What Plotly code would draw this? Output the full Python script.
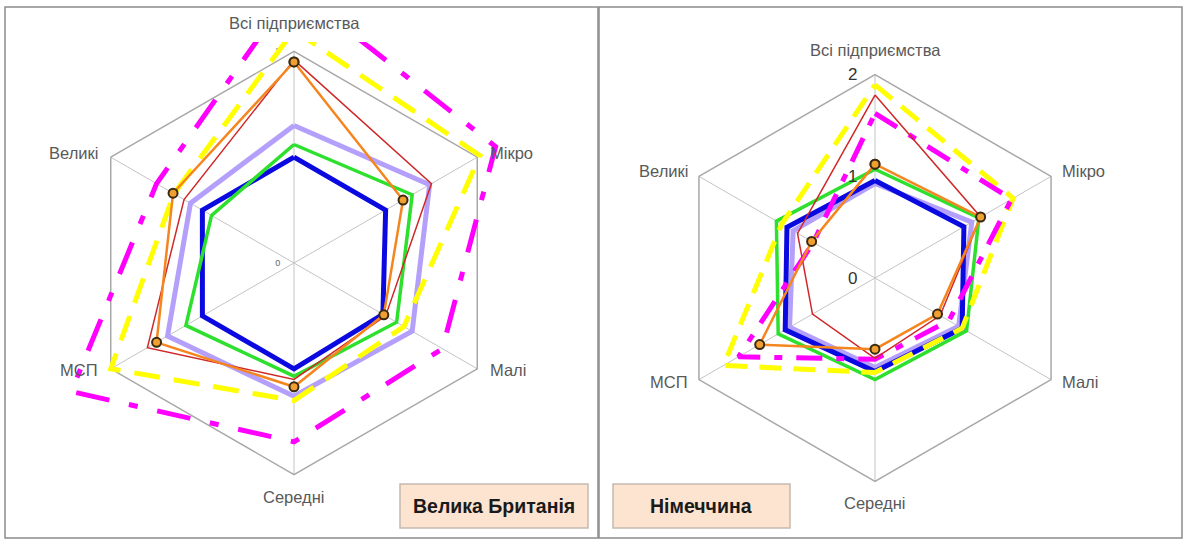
import plotly.graph_objects as go

# ---------------- data ----------------
categories = ["Всі підприємства", "Мікро", "Малі", "Середні", "МСП", "Великі"]

# Велика Британія
uk_blue = [1.00, 1.00, 0.97, 1.00, 1.00, 1.00]
uk_green = [1.12, 1.29, 1.12, 1.07, 1.18, 0.90]
uk_lavender = [1.30, 1.48, 1.29, 1.26, 1.38, 1.13]
uk_red = [1.92, 1.50, 1.00, 1.10, 1.60, 1.20]
uk_orange = [1.90, 1.19, 0.98, 1.17, 1.50, 1.32]
uk_yellow = [2.20, 2.03, 1.20, 1.30, 2.00, 1.31]
uk_magenta = [2.60, 2.20, 1.62, 1.69, 2.43, 1.50]

# Німеччина
de_blue = [0.96, 1.01, 0.99, 0.92, 1.02, 1.00]
de_green = [1.07, 1.18, 1.04, 1.00, 1.10, 1.12]
de_lavender = [0.93, 1.10, 0.95, 0.88, 0.97, 0.93]
de_red = [1.80, 1.20, 0.74, 0.79, 0.71, 0.88]
de_orange = [1.12, 1.20, 0.71, 0.70, 1.31, 0.72]
de_yellow = [1.90, 1.57, 0.99, 0.93, 1.72, 1.06]
de_magenta = [1.62, 1.55, 0.84, 0.80, 1.55, 0.70]

uk_ticks = [0, 2]
de_ticks = [0, 1, 2]
titles = ["Велика Британія", "Німеччина"]

# ---------------- geometry ----------------
W, H = 1183, 542
LEFT = dict(cx=294, cy=263, R=211.6)
RIGHT = dict(cx=875, cy=278, R=203.3)
RMAX_GRID = 2.0
RMAX_DATA = 2.48

FONT = "Liberation Sans, Arial, sans-serif"


def dom(cx, cy, half):
    return dict(x=[(cx - half) / W, (cx + half) / W],
                y=[(H - cy - half) / H, (H - cy + half) / H])


def closed(v):
    return list(v) + [v[0]]


theta = closed(categories)

styles = [
    ("lavender", dict(color="#b4a0fa", width=5), None),
    ("blue", dict(color="#0a0ae0", width=5), None),
    ("green", dict(color="#2ee02e", width=3.5), None),
    ("yellow", dict(color="#ffff00", width=5), "dash"),
    ("magenta", dict(color="#ff00ff", width=5), "dashdot"),
    ("red", dict(color="#d02828", width=1.5), None),
    ("orange", dict(color="#f5861f", width=2.5), "markers"),
]

fig = go.Figure()


def add_series(series, subplot, dashes):
    for (name, line, kind), vals in zip(styles, series):
        ln = dict(line)
        mode = "lines"
        marker = None
        if kind == "dash":
            ln["dash"] = dashes[0]
        elif kind == "dashdot":
            ln["dash"] = dashes[1]
        elif kind == "markers":
            mode = "lines+markers"
            marker = dict(size=9, color="#f0a030", line=dict(color="#3a2a10", width=2))
        fig.add_trace(go.Scatterpolar(
            r=closed(vals), theta=theta, mode=mode, line=ln, marker=marker,
            name=name, subplot=subplot, showlegend=False, hoverinfo="skip",
            cliponaxis=False))


uk_series = [uk_lavender, uk_blue, uk_green, uk_yellow, uk_magenta, uk_red, uk_orange]
de_series = [de_lavender, de_blue, de_green, de_yellow, de_magenta, de_red, de_orange]

# invisible helper so the grid subplot knows its categories
fig.add_trace(go.Scatterpolar(r=closed(uk_blue), theta=theta, mode="lines",
                              line=dict(width=0), opacity=0, subplot="polar",
                              showlegend=False, hoverinfo="skip"))
add_series(uk_series, "polar2", ("26px,14px", "34px,20px,9px,20px"))
add_series(de_series, "polar3", ("22px,12px", "26px,14px,8px,14px"))


def angular(grid):
    a = dict(type="category", rotation=90, direction="clockwise",
             showticklabels=False, ticks="")
    if grid:
        a.update(showline=True, linecolor="#a8a8a8", linewidth=1.5,
                 showgrid=True, gridcolor="#c4c4c4", gridwidth=1.2)
    else:
        a.update(showline=False, showgrid=False)
    return a


fig.update_layout(
    width=W, height=H,
    margin=dict(l=0, r=0, t=0, b=0),
    paper_bgcolor="white",
    showlegend=False,
    polar=dict(
        domain=dom(LEFT["cx"], LEFT["cy"], LEFT["R"]),
        gridshape="linear", bgcolor="white",
        angularaxis=angular(True),
        radialaxis=dict(range=[0, RMAX_GRID], showgrid=False, showline=False,
                        ticks="outside", ticklen=10, tickcolor="rgba(0,0,0,0)",
                        tickvals=uk_ticks, ticktext=[str(t) for t in uk_ticks],
                        tickfont=dict(family=FONT, size=9, color="#666666"),
                        tickangle=90, side="counterclockwise", angle=90),
    ),
    polar2=dict(
        domain=dom(LEFT["cx"], LEFT["cy"], LEFT["R"] / RMAX_GRID * RMAX_DATA),
        gridshape="linear", bgcolor="rgba(0,0,0,0)",
        angularaxis=angular(False),
        radialaxis=dict(range=[0, RMAX_DATA], showgrid=False, showline=False,
                        ticks="", showticklabels=False),
    ),
    polar3=dict(
        domain=dom(RIGHT["cx"], RIGHT["cy"], RIGHT["R"]),
        gridshape="linear", bgcolor="white",
        angularaxis=angular(True),
        radialaxis=dict(range=[0, RMAX_GRID], showgrid=False, showline=False,
                        ticks="outside", ticklen=11, tickcolor="rgba(0,0,0,0)",
                        tickvals=de_ticks, ticktext=[str(t) for t in de_ticks],
                        tickfont=dict(family=FONT, size=17, color="#333333"),
                        tickangle=90, side="counterclockwise", angle=90),
    ),
)

# ---------------- shapes ----------------
def px_rect(x0, y0, x1, y1, **kw):
    return dict(type="rect", xref="paper", yref="paper",
                x0=x0 / W, x1=x1 / W, y0=(H - y1) / H, y1=(H - y0) / H, **kw)


shapes = [
    # plot-area clip at the top of the left chart
    px_rect(222, 8, 372, 42, fillcolor="white", line=dict(width=0), layer="above"),
    # panel frames
    px_rect(5, 7, 598, 538, fillcolor="rgba(0,0,0,0)", line=dict(color="#8c8c8c", width=1.5), layer="above"),
    px_rect(599, 7, 1182, 538, fillcolor="rgba(0,0,0,0)", line=dict(color="#8c8c8c", width=1.5), layer="above"),
    # country boxes
    px_rect(400, 484, 588, 528, fillcolor="#fce4d0", line=dict(color="#c4bab0", width=1.5), layer="above"),
    px_rect(613, 484, 790, 528, fillcolor="#fce4d0", line=dict(color="#c4bab0", width=1.5), layer="above"),
]
fig.update_layout(shapes=shapes)

# ---------------- annotations (axis category labels, country names) ----------------
annotations = []


def lab(text, x, y, xanchor="center", size=16.5):
    annotations.append(dict(text=text, x=x / W, y=(H - y) / H, xref="paper", yref="paper",
                            xanchor=xanchor, yanchor="middle", showarrow=False,
                            font=dict(family=FONT, size=size, color="#595959")))


def cat_labels(g, top_gap, bot_gap, side_gap, dy_up, dy_dn):
    cx, cy, R = g["cx"], g["cy"], g["R"]
    hx = R * 0.8660254
    lab(categories[0], cx, cy - R - top_gap)
    lab(categories[1], cx + hx + side_gap, cy - R / 2 + dy_up, "left")
    lab(categories[2], cx + hx + side_gap, cy + R / 2 + dy_dn, "left")
    lab(categories[3], cx, cy + R + bot_gap)
    lab(categories[4], cx - hx - side_gap, cy + R / 2 + dy_dn, "right")
    lab(categories[5], cx - hx - side_gap, cy - R / 2 + dy_up, "right")


cat_labels(LEFT, 28, 22, 11, -4, 1)
cat_labels(RIGHT, 25, 22, 9, -5, 2)

for text, x, y in zip(titles, [494, 701.5], [506, 506]):
    annotations.append(dict(text="<b>" + text + "</b>", x=x / W, y=(H - y) / H,
                            xref="paper", yref="paper", xanchor="center", yanchor="middle",
                            showarrow=False,
                            font=dict(family=FONT, size=19.5, color="#1a1a1a")))

fig.update_layout(annotations=annotations)

fig.write_html("out.html", config={"displayModeBar": False},
               post_script="document.body.style.margin='0';document.body.style.padding='0';")
